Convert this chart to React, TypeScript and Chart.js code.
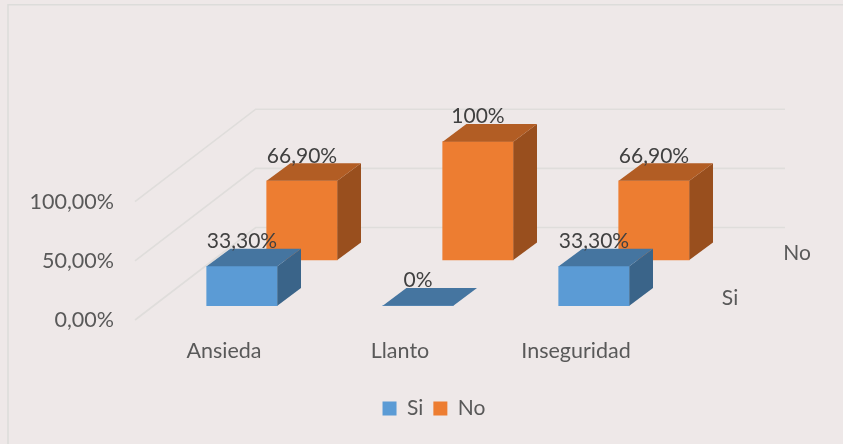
import React, { useEffect, useRef } from "react";
import { Chart, registerables } from "chart.js";

Chart.register(...registerables);

const categories = ["Ansieda", "Llanto", "Inseguridad"];
const siValues = [33.3, 0, 33.3];
const noValues = [66.9, 100, 66.9];
const siLabels = ["33,30%", "0%", "33,30%"];
const noLabels = ["66,90%", "100%", "66,90%"];
const yTicks = [0, 50, 100];
const depthLabels = ["Si", "No"];

const FONT = "Lato";
const PX_PER_UNIT = 1.183;
const TOP = 34.9;
const FLOOR = { main: 320, si: 305.7, no: 260 };
const yRange = (zero: number) => ({
  min: -(FLOOR.main - zero) / PX_PER_UNIT,
  max: (zero - TOP) / PX_PER_UNIT,
});
const UNIT_X = 176;
const xRange = (off: number) => ({ min: -0.5 - off / UNIT_X, max: 2.5 - off / UNIT_X, offset: false });

const DEPTH_X = 23.7;
const DEPTH_Y = -17.6;
const SHADES = [
  { top: "#4575A0", side: "#3A6489" },
  { top: "#B25D24", side: "#994F1E" },
];

const poly = (ctx: CanvasRenderingContext2D, pts: number[][], fill: string) => {
  ctx.beginPath();
  pts.forEach(([x, y], i) => (i ? ctx.lineTo(x, y) : ctx.moveTo(x, y)));
  ctx.closePath();
  ctx.fillStyle = fill;
  ctx.fill();
};

const scene = {
  id: "scene",
  beforeDraw(chart: any) {
    const { ctx, width, height } = chart;
    ctx.save();
    ctx.fillStyle = "#EEE8E8";
    ctx.fillRect(0, 0, width, height);
    ctx.strokeStyle = "#DCDCDA";
    ctx.lineWidth = 1.6;
    ctx.beginPath();
    ctx.moveTo(8, height);
    ctx.lineTo(8, 4.7);
    ctx.lineTo(width, 4.7);
    ctx.stroke();
    ctx.restore();
  },
  beforeDatasetsDraw(chart: any) {
    const { ctx, chartArea } = chart;
    const yScale = chart.scales.y;
    ctx.save();
    ctx.strokeStyle = "#DFDDDB";
    ctx.lineWidth = 1.6;
    yScale.ticks.forEach((t: any) => {
      const py = yScale.getPixelForValue(t.value);
      ctx.beginPath();
      ctx.moveTo(chartArea.left - 1, py);
      ctx.lineTo(255.7, py - 92.5);
      ctx.lineTo(785, py - 92.5);
      ctx.stroke();
    });
    ctx.restore();
  },
  afterDatasetDraw(chart: any, args: any) {
    const { ctx } = chart;
    const shade = SHADES[args.index];
    args.meta.data.forEach((bar: any) => {
      const p = bar.getProps(["x", "y", "base", "width"], true);
      const l = p.x - p.width / 2;
      const r = p.x + p.width / 2;
      if (p.base - p.y > 0.5) {
        poly(ctx, [[r, p.y], [r + DEPTH_X, p.y + DEPTH_Y], [r + DEPTH_X, p.base + DEPTH_Y], [r, p.base]], shade.side);
      }
      poly(ctx, [[l, p.y], [l + DEPTH_X, p.y + DEPTH_Y], [r + DEPTH_X, p.y + DEPTH_Y], [r, p.y]], shade.top);
    });
  },
  afterDatasetsDraw(chart: any) {
    const { ctx } = chart;
    ctx.save();
    ctx.font = `21px ${FONT}`;
    ctx.fillStyle = "#404040";
    ctx.textAlign = "center";
    ctx.textBaseline = "middle";
    [siLabels, noLabels].forEach((labels, d) => {
      chart.getDatasetMeta(d).data.forEach((bar: any, i: number) => {
        const p = bar.getProps(["x", "y"], true);
        ctx.fillText(labels[i], p.x, p.y - 25);
      });
    });
    ctx.fillStyle = "#595959";
    ctx.fillText(depthLabels[0], 730, 298);
    ctx.fillText(depthLabels[1], 797, 253);
    ctx.restore();
  },
};

export default function App() {
  const ref = useRef<HTMLCanvasElement | null>(null);
  useEffect(() => {
    if (!ref.current) return;
    const tickFont = { family: FONT, size: 21.5 };
    const hidden = { display: false };
    const chart = new Chart(ref.current, {
      type: "bar",
      data: {
        labels: categories,
        datasets: [
          {
            label: "Si",
            data: siValues.map((y, x) => ({ x, y })),
            backgroundColor: "#5B9BD5",
            xAxisID: "xSi",
            yAxisID: "ySi",
            barThickness: 70.6,
            grouped: false,
            clip: false,
          },
          {
            label: "No",
            data: noValues.map((y, x) => ({ x, y })),
            backgroundColor: "#ED7D31",
            xAxisID: "xNo",
            yAxisID: "yNo",
            barThickness: 70.6,
            grouped: false,
            clip: false,
          },
        ] as any,
      },
      options: {
        animation: false,
        responsive: false,
        layout: { padding: { left: 25, right: 0, top: 0, bottom: 15 } },
        plugins: {
          tooltip: { enabled: false },
          legend: {
            position: "bottom",
            labels: {
              font: { family: FONT, size: 21 },
              color: "#595959",
              boxWidth: 14,
              boxHeight: 14,
              padding: 10,
            },
          },
        },
        scales: {
          x: {
            type: "category",
            offset: true,
            grid: { display: false },
            border: { display: false },
            ticks: { font: tickFont, color: "#595959", padding: 10, maxRotation: 0, autoSkip: false },
            afterFit: (s: any) => { s.height = 68; },
          },
          y: {
            type: "linear",
            position: "left",
            ...yRange(FLOOR.main),
            grid: { display: false, drawTicks: false },
            border: { display: false },
            afterBuildTicks: (s: any) => {
              s.ticks = yTicks.map((value) => ({ value }));
            },
            ticks: {
              font: tickFont,
              color: "#595959",
              padding: 22,
              callback: (v: any) => `${Number(v).toFixed(2).replace(".", ",")}%`,
            },
            afterFit: (s: any) => { s.width = 111; },
          },
          spacer: {
            type: "linear",
            position: "right",
            grid: { display: false },
            border: { display: false },
            ticks: { display: false },
            afterFit: (s: any) => { s.width = 179; },
          },
          xSi: { type: "linear", ...hidden, ...xRange(18) },
          xNo: { type: "linear", ...hidden, ...xRange(78) },
          ySi: { type: "linear", ...hidden, ...yRange(FLOOR.si) },
          yNo: { type: "linear", ...hidden, ...yRange(FLOOR.no) },
        },
      } as any,
      plugins: [scene],
    });
    return () => chart.destroy();
  }, []);
  return (
    <div style={{ position: "fixed", left: 0, top: 0, width: 843, height: 444, overflow: "hidden" }}>
      <canvas ref={ref} width={843} height={444} style={{ display: "block", filter: "blur(0.4px)" }} />
    </div>
  );
}
